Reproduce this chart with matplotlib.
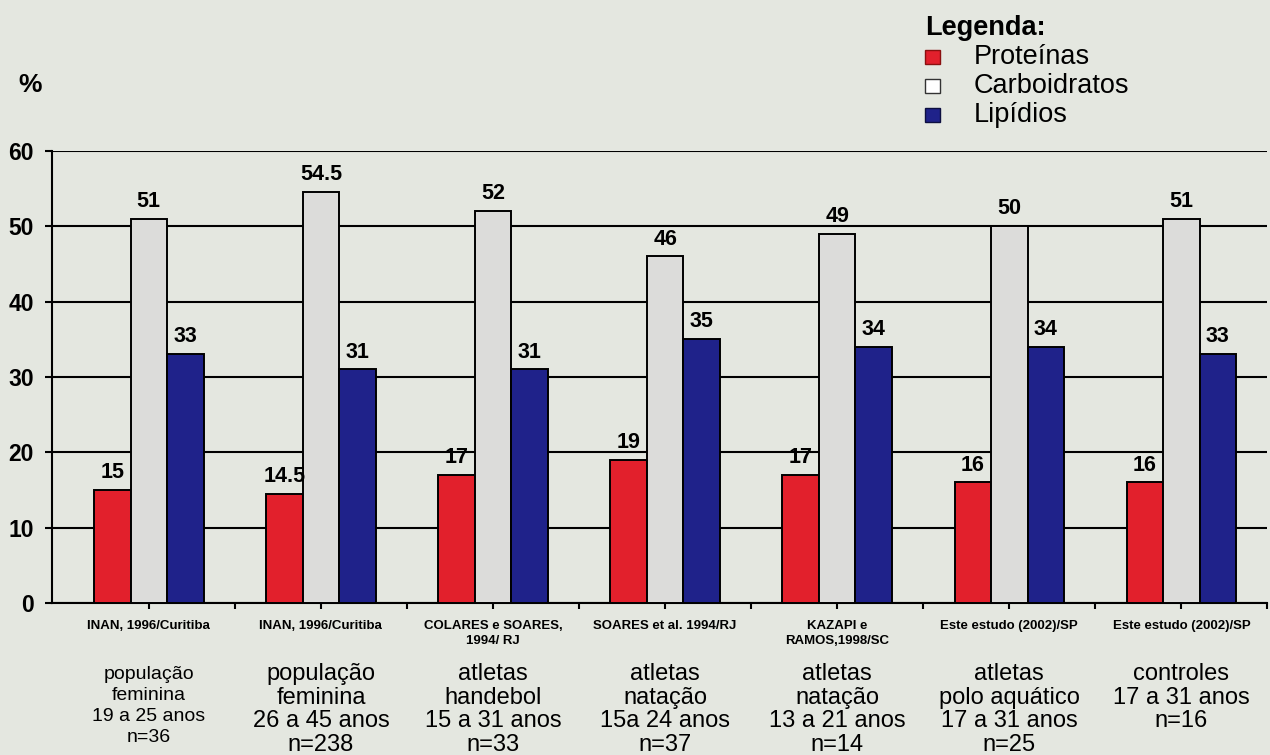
import numpy as np
import matplotlib
matplotlib.use("Agg")
import matplotlib.pyplot as plt
from matplotlib.patches import Rectangle
from matplotlib.transforms import blended_transform_factory

plt.rcParams['font.family'] = ['Liberation Sans', 'DejaVu Sans']

# dados
fontes = ["INAN, 1996/Curitiba", "INAN, 1996/Curitiba", "COLARES e SOARES,\n1994/ RJ",
          "SOARES et al. 1994/RJ", "KAZAPI e\nRAMOS,1998/SC", "Este estudo (2002)/SP",
          "Este estudo (2002)/SP"]
grupos = ["população\nfeminina\n19 a 25 anos\nn=36",
          "população\nfeminina\n26 a 45 anos\nn=238",
          "atletas\nhandebol\n15 a 31 anos\nn=33",
          "atletas\nnatação\n15a 24 anos\nn=37",
          "atletas\nnatação\n13 a 21 anos\nn=14",
          "atletas\npolo aquático\n17 a 31 anos\nn=25",
          "controles\n17 a 31 anos\nn=16"]
proteinas = [15, 14.5, 17, 19, 17, 16, 16]
carboidratos = [51, 54.5, 52, 46, 49, 50, 51]
lipidios = [33, 31, 31, 35, 34, 34, 33]
series = ["Proteínas", "Carboidratos", "Lipídios"]

fundo = '#e4e7e0'
cores = ['#e2202c', '#dcdcda', '#1f228a']

fig = plt.figure(figsize=(12.7, 7.55), dpi=100, facecolor=fundo)
ax = fig.add_axes([0.041, 0.2013, 0.957, 0.5987])
ax.set_facecolor(fundo)

x = np.arange(len(fontes))
w = 0.212
for k, vals in enumerate([proteinas, carboidratos, lipidios]):
    barras = ax.bar(x + (k - 1) * w, vals, w, color=cores[k], edgecolor='black',
                    linewidth=1.4, zorder=3, label=series[k])
    for b, v in zip(barras, vals):
        ax.annotate(f"{v:g}", (b.get_x() + b.get_width() / 2, v), xytext=(0, 5),
                    textcoords='offset points', ha='center', va='bottom',
                    fontsize=15.5, fontweight='bold', zorder=4)

ax.set_xlim(-0.562, 6.487)
ax.set_ylim(0, 60)
ax.set_yticks(range(0, 61, 10))
ax.yaxis.grid(True, color='black', linewidth=1.5, zorder=0)
ax.set_axisbelow(True)
for s in ['top', 'right']:
    ax.spines[s].set_visible(False)
ax.spines['left'].set_linewidth(1.5)
ax.spines['bottom'].set_linewidth(1.5)
ax.tick_params(axis='y', length=5, width=1.5, pad=8, labelsize=16.5)
for t in ax.get_yticklabels():
    t.set_fontweight('bold')

ax.set_xticks(x, fontes, fontsize=9.5, fontweight='bold', linespacing=1.35)
ax.set_xticks(x + 0.5, minor=True)
ax.tick_params(axis='x', which='both', length=4, width=1.5, pad=8)

# descrição de cada grupo abaixo do eixo
trans = blended_transform_factory(ax.transData, fig.transFigure)
for i, g in enumerate(grupos):
    if i == 0:
        ax.text(x[i], 1 - 666 / 755, g, transform=trans, ha='center', va='top',
                fontsize=14, linespacing=1.3, multialignment='center')
    else:
        ax.text(x[i], 1 - 663 / 755, g, transform=trans, ha='center', va='top',
                fontsize=17, linespacing=1.1, multialignment='center')

fig.text(30 / 1270, 1 - 85 / 755, "%", ha='center', va='center',
         fontsize=19, fontweight='bold')

# legenda
fig.text(925 / 1270, 1 - 28 / 755, "Legenda:", ha='left', va='center',
         fontsize=19.5, fontweight='bold')
bordas = ['#8a1010', '#333333', '#0d0f40']
for k, nome in enumerate(series):
    yc = 57 + 29 * k
    fig.add_artist(Rectangle((925 / 1270, 1 - (yc + 7) / 755), 15 / 1270, 14 / 755,
                             transform=fig.transFigure,
                             facecolor=cores[k] if k != 1 else 'white',
                             edgecolor=bordas[k], linewidth=1))
    fig.text(974 / 1270, 1 - yc / 755, nome, ha='left', va='center', fontsize=19.5)

fig.savefig("out.png", dpi=100, facecolor=fundo)
